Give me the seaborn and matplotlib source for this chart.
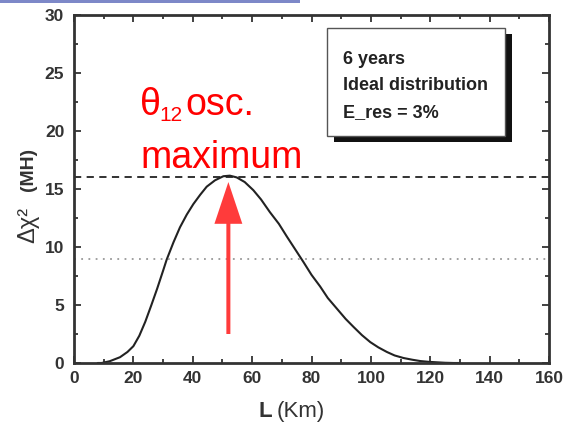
import matplotlib
matplotlib.use("Agg")
import matplotlib.pyplot as plt
import seaborn as sns
import pandas as pd
from matplotlib.patches import Rectangle
from matplotlib.ticker import MultipleLocator

# distance L (km) and delta chi^2
L_km = [8, 9.3, 12, 15.5, 18, 20, 22, 24, 26, 28, 30, 31.2, 33.5, 35.7, 38, 40.2,
        42.5, 44.7, 47.5, 50.3, 52.5, 54.8, 57.5, 60.4, 63, 66, 69, 71.7, 74.5, 77.3,
        80, 82.9, 85.5, 88.5, 91.5, 94.2, 97, 99.8, 102.5, 105.4, 108, 111, 114,
        116.6, 119.5, 122.2, 125, 127.9, 130]
dchi2 = [0.0, 0.0, 0.15, 0.5, 0.95, 1.45, 2.35, 3.55, 4.95, 6.4, 7.95, 8.9, 10.4, 11.7, 12.8, 13.7,
         14.5, 15.2, 15.75, 16.1, 16.15, 16.0, 15.6, 14.9, 14.1, 13.0, 12.0, 10.9, 9.8, 8.7,
         7.6, 6.6, 5.6, 4.7, 3.8, 3.1, 2.4, 1.8, 1.35, 0.95, 0.65, 0.43, 0.28,
         0.17, 0.1, 0.06, 0.02, 0.0, 0.0]

theta_max_level = 16.0
sigma3_level = 9.0
arrow_L = 52
arrow_from, arrow_to = 2.5, 15.6

box_lines = ["6 years", "Ideal distribution", "E_res = 3%"]

df = pd.DataFrame({"L": L_km, "chi2": dchi2})

sns.set_style("ticks")
plt.rcParams["font.family"] = ["Liberation Sans", "DejaVu Sans"]

W, H = 564, 428
fig = plt.figure(figsize=(W / 100, H / 100), dpi=100)
ax = fig.add_axes([74 / W, 1 - 363 / H, (549 - 74) / W, (363 - 15) / H])

def fx(px):
    return px / W

def fy(py):
    return 1 - py / H

sns.lineplot(data=df, x="L", y="chi2", ax=ax, color="#222222", lw=1.5)
ax.axhline(theta_max_level, color="#222222", ls=(0, (4, 3)), lw=1.3)
ax.axhline(sigma3_level, color="#999999", ls=(0, (1, 3)), lw=1.3)

ax.arrow(arrow_L, arrow_from, 0, arrow_to - arrow_from, width=1.35, head_width=9.4,
         head_length=3.6, length_includes_head=True, color="#ff3b3b", ec="none", zorder=5)

ax.set_xlim(0, 160)
ax.set_ylim(0, 30)
ax.xaxis.set_major_locator(MultipleLocator(20))
ax.xaxis.set_minor_locator(MultipleLocator(10))
ax.yaxis.set_major_locator(MultipleLocator(5))
ax.yaxis.set_minor_locator(MultipleLocator(2.5))
ax.tick_params(which="both", direction="in", top=True, right=True, color="#333333", width=1.3)
ax.tick_params(which="major", length=5)
ax.tick_params(which="minor", length=3)
ax.tick_params(axis="x", which="major", pad=6, labelsize=12.5)
ax.tick_params(axis="y", which="major", pad=7, labelsize=12.5)
for lab in ax.get_xticklabels() + ax.get_yticklabels():
    lab.set_fontweight("bold")
    lab.set_color("#333333")
for sp in ax.spines.values():
    sp.set_visible(True)
    sp.set_linewidth(2)
    sp.set_color("#333333")
ax.set_xlabel("")
ax.set_ylabel("")

# axis labels with mixed weights
fig.text(fx(272), fy(417), "L", ha="right", va="baseline", fontsize=16, fontweight="bold", color="#333333")
fig.text(fx(277), fy(417), "(Km)", ha="left", va="baseline", fontsize=16, color="#333333")
fig.text(fx(28), fy(243), "Δχ²", rotation=90, ha="center", va="bottom", fontsize=17, color="#333333")
fig.text(fx(28), fy(191), "(MH)", rotation=90, ha="center", va="bottom", fontsize=14, fontweight="bold", color="#333333")

# red annotation
fig.text(fx(140), fy(115), "θ", ha="left", va="baseline", fontsize=27, color="red")
fig.text(fx(159), fy(121), "12", ha="left", va="baseline", fontsize=15, color="red")
fig.text(fx(185), fy(115), "osc.", ha="left", va="baseline", fontsize=27, color="red")
fig.text(fx(140), fy(168), "maximum", ha="left", va="baseline", fontsize=27, color="red")

# info box with shadow
fig.patches.append(Rectangle((fx(334), fy(142)), fx(505 - 327), fy(28) - fy(136),
                             transform=fig.transFigure, fc="#111111", ec="none", zorder=3))
fig.patches.append(Rectangle((fx(327), fy(136)), fx(505 - 327), fy(28) - fy(136),
                             transform=fig.transFigure, fc="white", ec="#555555", lw=1, zorder=4))
for i, line in enumerate(box_lines):
    fig.text(fx(343), fy(64 + i * 26.5), line, ha="left", va="baseline", fontsize=13,
             fontweight="bold", color="#222222", zorder=5)

# thin bar at the top edge
fig.patches.append(Rectangle((0, fy(2.5)), fx(300), fy(0) - fy(2.5), transform=fig.transFigure,
                             fc="#7d88c8", ec="none"))

fig.savefig("out.png", dpi=100)
